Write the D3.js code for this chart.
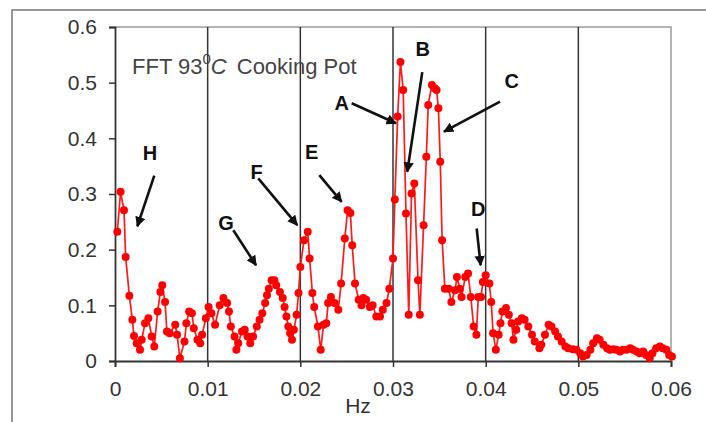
<!DOCTYPE html>
<html>
<head>
<meta charset="utf-8">
<script src="https://cdn.jsdelivr.net/npm/d3@7"></script>
<style>
  body { margin: 0; background: #fff; }
  svg { display: block; font-family: "Liberation Sans", Arial, sans-serif; }
</style>
</head>
<body>
<svg id="chart" width="706" height="422"></svg>
<script>
// FFT spectrum, 93C cooking pot
const hz = [0.00025, 0.0006, 0.00097, 0.00115, 0.00155, 0.00187, 0.00205, 0.00234, 0.0027, 0.00288,
  0.00324, 0.0036, 0.00396, 0.00424, 0.0046, 0.0049, 0.0051, 0.0054, 0.0056, 0.0059,
  0.0065, 0.0067, 0.0070, 0.0075, 0.0077, 0.0080, 0.0083, 0.0085, 0.0089, 0.0092,
  0.0094, 0.0098, 0.0101, 0.0104, 0.0108, 0.0113, 0.0117, 0.0121, 0.0123, 0.0125,
  0.0129, 0.0131, 0.0133, 0.0137, 0.0140, 0.0143, 0.0146, 0.0149, 0.0153, 0.0156,
  0.0159, 0.0162, 0.0164, 0.0166, 0.0169, 0.0172, 0.0174, 0.0178, 0.0181, 0.0183,
  0.0185, 0.0187, 0.0189, 0.0191, 0.0193, 0.0196, 0.0198, 0.0200, 0.0204, 0.0208,
  0.0210, 0.0213, 0.0215, 0.0219, 0.0222, 0.0225, 0.0228, 0.0230, 0.0233, 0.0237,
  0.0241, 0.0244, 0.0248, 0.0251, 0.0254, 0.0256, 0.0259, 0.0263, 0.0266, 0.0268,
  0.0271, 0.0275, 0.0278, 0.0282, 0.0286, 0.0289, 0.0293, 0.0296, 0.0300, 0.0302,
  0.0305, 0.0308, 0.0311, 0.0314, 0.0317, 0.0320, 0.0323, 0.0327, 0.0329, 0.0333,
  0.0336, 0.0338, 0.0342, 0.0345, 0.0347, 0.0349, 0.0351, 0.0353, 0.0356, 0.0360,
  0.0363, 0.0367, 0.0369, 0.0372, 0.0374, 0.0378, 0.0381, 0.0384, 0.0387, 0.0390,
  0.0392, 0.0395, 0.0397, 0.0400, 0.0404, 0.0406, 0.0408, 0.0411, 0.0414, 0.0416,
  0.0418, 0.0422, 0.0425, 0.0428, 0.0430, 0.0433, 0.0435, 0.0439, 0.0442, 0.0446,
  0.0450, 0.0453, 0.0458, 0.0460, 0.0464, 0.0468, 0.0471, 0.0475, 0.0478, 0.0482,
  0.0486, 0.0489, 0.0494, 0.0498, 0.0502, 0.0505, 0.0509, 0.0513, 0.0516, 0.0520,
  0.0523, 0.0527, 0.0531, 0.0534, 0.0538, 0.0541, 0.0545, 0.0548, 0.0552, 0.0556,
  0.0559, 0.0563, 0.0566, 0.0570, 0.0573, 0.0577, 0.0580, 0.0584, 0.0588, 0.0591,
  0.0595, 0.0598, 0.0601]
const amp = [0.232, 0.304, 0.271, 0.187, 0.117, 0.074, 0.045, 0.032, 0.020, 0.038,
  0.068, 0.077, 0.044, 0.026, 0.089, 0.124, 0.136, 0.106, 0.053, 0.050,
  0.065, 0.047, 0.005, 0.035, 0.068, 0.089, 0.086, 0.059, 0.038, 0.032,
  0.047, 0.077, 0.097, 0.086, 0.065, 0.100, 0.113, 0.104, 0.089, 0.062,
  0.044, 0.020, 0.032, 0.053, 0.056, 0.044, 0.032, 0.044, 0.062, 0.074,
  0.086, 0.104, 0.118, 0.130, 0.145, 0.145, 0.136, 0.124, 0.113, 0.097,
  0.080, 0.062, 0.050, 0.038, 0.056, 0.083, 0.122, 0.169, 0.217, 0.232,
  0.184, 0.122, 0.097, 0.062, 0.020, 0.065, 0.068, 0.104, 0.115, 0.104,
  0.092, 0.139, 0.220, 0.271, 0.266, 0.208, 0.139, 0.110, 0.100, 0.113,
  0.110, 0.097, 0.100, 0.080, 0.080, 0.092, 0.104, 0.130, 0.184, 0.290,
  0.439, 0.537, 0.487, 0.265, 0.083, 0.301, 0.319, 0.145, 0.083, 0.244,
  0.367, 0.460, 0.496, 0.490, 0.487, 0.454, 0.358, 0.217, 0.130, 0.130,
  0.106, 0.127, 0.151, 0.130, 0.115, 0.151, 0.157, 0.115, 0.062, 0.047,
  0.115, 0.115, 0.142, 0.154, 0.139, 0.106, 0.050, 0.020, 0.047, 0.068,
  0.089, 0.095, 0.083, 0.068, 0.038, 0.056, 0.071, 0.077, 0.074, 0.062,
  0.047, 0.035, 0.023, 0.029, 0.047, 0.065, 0.062, 0.053, 0.044, 0.035,
  0.026, 0.023, 0.021, 0.020, 0.014, 0.008, 0.011, 0.020, 0.032, 0.041,
  0.038, 0.029, 0.023, 0.020, 0.021, 0.020, 0.017, 0.020, 0.020, 0.023,
  0.020, 0.017, 0.014, 0.017, 0.011, 0.005, 0.014, 0.023, 0.026, 0.023,
  0.020, 0.011, 0.008]

const xTicks = [0, 0.01, 0.02, 0.03, 0.04, 0.05, 0.06]
const yTicks = [0, 0.1, 0.2, 0.3, 0.4, 0.5, 0.6]

// peak labels and their arrows (label pos, arrow start, arrow end) in data units
const labels = ["H", "G", "F", "E", "A", "B", "C", "D"]
const labelAt = [[0.00378, 0.374], [0.01198, 0.248], [0.01529, 0.340], [0.02123, 0.376],
  [0.02446, 0.464], [0.0332, 0.561], [0.04281, 0.504], [0.0392, 0.274]]
const arrowFrom = [[0.00424, 0.333], [0.01277, 0.235], [0.01546, 0.328], [0.02205, 0.334],
  [0.02554, 0.463], [0.03316, 0.519], [0.04155, 0.466], [0.03903, 0.238]]
const arrowTo = [[0.00241, 0.242], [0.01522, 0.172], [0.01967, 0.244], [0.02446, 0.286],
  [0.03032, 0.427], [0.03154, 0.340], [0.0355, 0.412], [0.03946, 0.172]]

var svg = d3.select("#chart")
var x = d3.scaleLinear().domain([0, 0.06]).range([115, 671])
var y = d3.scaleLinear().domain([0, 0.6]).range([361, 27])

// outer frame
svg.append("path").attr("d", "M12,422 V10 H706")
  .attr("fill", "none").attr("stroke", "#777").attr("stroke-width", 1.5)

// plot border top/right
svg.append("path").attr("d", `M${x(0)},${y(0.6)} H${x(0.06)} V${y(0)}`)
  .attr("fill", "none").attr("stroke", "#999").attr("stroke-width", 1.5)

// vertical grid lines
svg.append("g").selectAll("line")
  .data(xTicks.slice(1, -1))
  .enter().append("line")
  .attr("x1", d => x(d)).attr("x2", d => x(d))
  .attr("y1", y(0.6)).attr("y2", y(0))
  .attr("stroke", "#333").attr("stroke-width", 1.5)

// axes
var xAxis = svg.append("g").attr("transform", `translate(0,${y(0)})`)
  .call(d3.axisBottom(x).tickValues(xTicks).tickSize(6).tickPadding(14).tickFormat(d3.format("")))
var yAxis = svg.append("g").attr("transform", `translate(${x(0)},0)`)
  .call(d3.axisLeft(y).tickValues(yTicks).tickSize(6).tickPadding(12).tickFormat(d3.format("")))
;[xAxis, yAxis].forEach(a => {
  a.select(".domain").attr("stroke", "#333").attr("stroke-width", 1.8)
  a.selectAll(".tick line").attr("stroke", "#333").attr("stroke-width", 1.5)
  a.selectAll(".tick text").attr("fill", "#333").style("font-size", "21px")
})
xAxis.selectAll(".tick text").attr("dy", "0.71em")

svg.append("text").attr("x", 358).attr("y", 413)
  .attr("text-anchor", "middle").attr("fill", "#333").style("font-size", "21px").text("Hz")

// title
var title = svg.append("text").attr("x", 132).attr("y", 74)
  .attr("fill", "#444").style("font-size", "22px")
title.append("tspan").text("FFT 93")
title.append("tspan").attr("dy", -10).style("font-size", "15px").text("0")
title.append("tspan").attr("dy", 10).style("font-style", "italic").text("C")
title.append("tspan").attr("dx", 10).text("Cooking Pot")

// series
var pts = hz.map((h, i) => [h, amp[i]])
svg.append("path").datum(pts)
  .attr("fill", "none").attr("stroke", "#ff1a1a").attr("stroke-width", 1.7)
  .attr("d", d3.line().x(d => x(d[0])).y(d => y(d[1])))
svg.append("g").selectAll("circle")
  .data(pts)
  .enter().append("circle")
  .attr("cx", d => x(d[0])).attr("cy", d => y(d[1])).attr("r", 4)
  .attr("fill", "#ff0000")

// arrows
svg.append("defs").append("marker")
  .attr("id", "head").attr("viewBox", "0 0 10 10").attr("refX", 9).attr("refY", 5)
  .attr("markerWidth", 4).attr("markerHeight", 4).attr("orient", "auto")
  .append("path").attr("d", "M0,0 L10,5 L0,10 z").attr("fill", "#111")

svg.append("g").selectAll("line")
  .data(labels)
  .enter().append("line")
  .attr("x1", (d, i) => x(arrowFrom[i][0])).attr("y1", (d, i) => y(arrowFrom[i][1]))
  .attr("x2", (d, i) => x(arrowTo[i][0])).attr("y2", (d, i) => y(arrowTo[i][1]))
  .attr("stroke", "#111").attr("stroke-width", 2.6)
  .attr("marker-end", "url(#head)")

svg.append("g").selectAll("text")
  .data(labels)
  .enter().append("text")
  .attr("x", (d, i) => x(labelAt[i][0])).attr("y", (d, i) => y(labelAt[i][1]))
  .attr("text-anchor", "middle").attr("dy", "0.36em")
  .attr("fill", "#111").style("font-size", "20px").style("font-weight", "bold")
  .text(d => d)
</script>
</body>
</html>
